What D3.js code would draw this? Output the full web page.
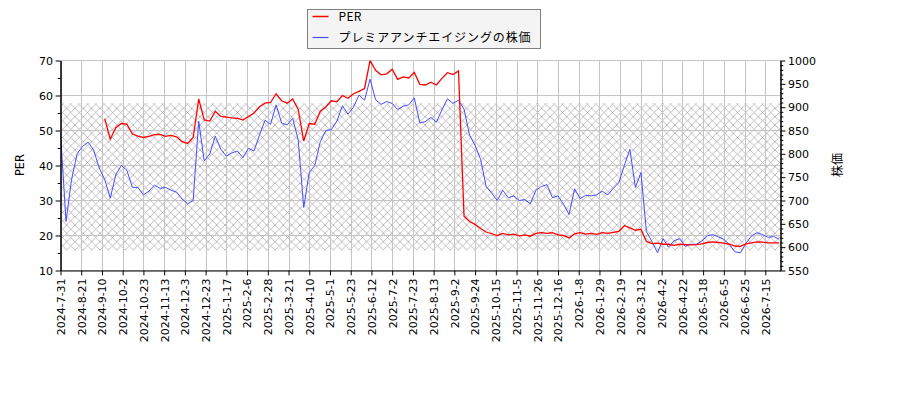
<!DOCTYPE html>
<html>
<head>
<meta charset="utf-8">
<script src="https://d3js.org/d3.v7.min.js"></script>
<style>
  body { margin: 0; background: #fff; }
  text { font-family: "DejaVu Sans", sans-serif; }
  .jp { font-family: "Noto Sans CJK JP", sans-serif; }
</style>
</head>
<body>
<svg id="chart" width="900" height="400"></svg>
<script>
"use strict";

// tick labels, one every 15 trading days starting at day 0
var tickLabels = ["2024-7-31","2024-8-21","2024-9-10","2024-10-2","2024-10-23","2024-11-13",
  "2024-12-3","2024-12-23","2025-1-17","2025-2-6","2025-2-28","2025-3-21","2025-4-10",
  "2025-5-1","2025-5-23","2025-6-12","2025-7-2","2025-7-23","2025-8-13","2025-9-2",
  "2025-9-24","2025-10-15","2025-11-5","2025-11-26","2025-12-16","2026-1-8","2026-1-29",
  "2026-2-19","2026-3-12","2026-4-2","2026-4-22","2026-5-18","2026-6-5","2026-6-25","2026-7-15"];
var tickStep = 15;
var lastDay = 521;

// samples every 4 trading days
var sampleStep = 4;

var price = [845,655,745,800,816,825,808,770,745,705,755,775,765,728,728,712,720,733,726,728,
  722,718,703,693,700,870,785,800,838,810,795,802,806,792,
  812,806,840,872,863,905,866,862,876,830,685,760,775,826,850,852,870,903,885,900,926,915,
  960,916,906,912,908,895,902,905,920,866,869,
  878,868,894,918,908,915,896,840,818,788,730,716,700,722,706,710,700,702,693,722,730,734,
  706,710,692,670,725,704,711,710,712,720,
  712,726,738,775,810,728,760,633,612,588,618,600,614,618,602,606,606,613,624,627,622,617,
  606,590,588,608,624,631,627,621,623,617];

var per = [null,null,null,null,null,null,null,null,
  53.4,47.5,50.8,52.0,51.8,49.0,48.4,48.0,48.3,48.8,48.9,48.3,48.6,48.2,46.8,46.3,48.0,59.0,
  53.0,52.7,55.5,54.0,53.8,53.6,53.5,53.0,
  54.0,55.0,56.8,57.8,58.0,60.5,58.5,57.8,59.0,56.0,47.0,52.0,51.8,55.5,56.8,58.5,58.2,60.0,
  59.2,60.5,61.2,62.0,70.0,67.2,65.9,66.2,67.5,64.6,65.3,65.0,66.6,63.2,63.0,
  63.8,63.0,64.9,66.5,66.0,67.0,25.5,24.0,23.2,22.0,21.0,20.5,20.0,20.6,20.2,20.4,19.9,20.2,
  19.8,20.6,20.8,20.6,20.8,20.2,20.0,19.3,20.5,20.8,20.4,20.6,20.3,20.8,
  20.6,20.9,21.2,22.8,22.2,21.5,21.8,18.3,17.7,17.8,17.5,17.5,17.2,17.5,17.4,17.3,17.4,17.6,
  18.0,18.2,18.0,17.8,17.5,17.0,16.9,17.6,17.9,18.2,18.1,17.9,17.9,17.9];

// shaded PER range
var perBand = [15.8, 57.8];

var perTicks = [10,20,30,40,50,60,70];
var perMinor = [15,25,35,45,55,65];
var priceTicks = [550,600,650,700,750,800,850,900,950,1000];

var seriesNames = ["PER", "プレミアアンチエイジングの株価"];
var seriesColors = ["#ff0000", "#4a4aff"];

var config = {
  left: 60.5, right: 780.5, top: 60.5, bottom: 270.5,
  major: 4.9, minor: 2.8, pad: 2.6, grid: "#c4c4c4"
};

var svg = d3.select("#chart");

var x = d3.scaleLinear().domain([0, lastDay]).range([config.left, config.right]);
var yPer = d3.scaleLinear().domain([10, 70]).range([config.bottom, config.top]);
var yPrice = d3.scaleLinear().domain([550, 1000]).range([config.bottom, config.top]);

// hatch pattern
var cell = 100 / 12;
var hatch = svg.append("defs").append("pattern")
  .attr("id", "hatch")
  .attr("patternUnits", "userSpaceOnUse")
  .attr("width", cell)
  .attr("height", cell);
hatch.append("path")
  .attr("d", "M0,0L" + cell + "," + cell + "M0," + cell + "L" + cell + ",0")
  .attr("stroke", "#a2a2a2")
  .attr("stroke-width", 0.7);

svg.append("rect")
  .attr("x", x(0))
  .attr("y", yPer(perBand[1]))
  .attr("width", x(lastDay) - x(0))
  .attr("height", yPer(perBand[0]) - yPer(perBand[1]))
  .attr("fill", "url(#hatch)");

// grid
var xTickVals = tickLabels.map(function(d, i) { return i * tickStep; });
var grid = svg.append("g").attr("stroke", config.grid).attr("stroke-width", 1);
grid.selectAll("line.v").data(xTickVals).enter().append("line")
  .attr("x1", function(d) { return Math.round(x(d)) + 0.5; })
  .attr("x2", function(d) { return Math.round(x(d)) + 0.5; })
  .attr("y1", config.top).attr("y2", config.bottom);
grid.selectAll("line.h").data(perTicks).enter().append("line")
  .attr("y1", function(d) { return yPer(d); })
  .attr("y2", function(d) { return yPer(d); })
  .attr("x1", config.left).attr("x2", config.right);

// lines
var days = price.map(function(d, i) { return i * sampleStep; });
svg.append("clipPath").attr("id", "plotClip").append("rect")
  .attr("x", config.left).attr("y", config.top)
  .attr("width", config.right - config.left).attr("height", config.bottom - config.top);

svg.append("path")
  .datum(price)
  .attr("clip-path", "url(#plotClip)")
  .attr("fill", "none")
  .attr("stroke", seriesColors[1])
  .attr("stroke-width", 1)
  .attr("d", d3.line()
    .x(function(d, i) { return x(days[i]); })
    .y(function(d) { return yPrice(d); }));

svg.append("path")
  .datum(per)
  .attr("clip-path", "url(#plotClip)")
  .attr("fill", "none")
  .attr("stroke", seriesColors[0])
  .attr("stroke-width", 1.3)
  .attr("d", d3.line()
    .defined(function(d) { return d !== null; })
    .x(function(d, i) { return x(days[i]); })
    .y(function(d) { return yPer(d); }));

// axes
function styleAxis(g) {
  g.selectAll("text").attr("font-size", "11px").attr("fill", "#000")
    .attr("font-family", "DejaVu Sans");
  g.selectAll("line").attr("stroke", "#000");
  g.select(".domain").attr("stroke", "#000");
}

svg.append("g")
  .attr("transform", "translate(" + config.left + ",0)")
  .call(d3.axisLeft(yPer).tickValues(perMinor).tickSize(config.minor).tickSizeOuter(0).tickFormat(""))
  .call(styleAxis);
svg.append("g")
  .attr("transform", "translate(" + config.left + ",0)")
  .call(d3.axisLeft(yPer).tickValues(perTicks).tickSize(config.major).tickPadding(config.pad).tickSizeOuter(0))
  .call(styleAxis);

var priceMinor = d3.range(550, 1001, 10).filter(function(d) { return d % 50 !== 0; });
svg.append("g")
  .attr("transform", "translate(" + config.right + ",0)")
  .call(d3.axisRight(yPrice).tickValues(priceMinor).tickSize(config.minor).tickSizeOuter(0).tickFormat(""))
  .call(styleAxis);
svg.append("g")
  .attr("transform", "translate(" + config.right + ",0)")
  .call(d3.axisRight(yPrice).tickValues(priceTicks).tickSize(config.major).tickPadding(config.pad)
    .tickSizeOuter(0).tickFormat(d3.format("d")))
  .call(styleAxis);

var xAxis = svg.append("g")
  .attr("transform", "translate(0," + config.bottom + ")")
  .call(d3.axisBottom(x).tickValues(xTickVals).tickSize(config.major).tickSizeOuter(0)
    .tickFormat(function(d, i) { return tickLabels[i]; }))
  .call(styleAxis);
xAxis.selectAll("text")
  .attr("transform", "rotate(-90)")
  .attr("text-anchor", "end")
  .attr("x", -(config.major + 3))
  .attr("y", 0)
  .attr("dy", "0.35em");

// axis titles
svg.append("text")
  .attr("transform", "translate(24,165) rotate(-90)")
  .attr("text-anchor", "middle")
  .attr("font-size", "11.5px")
  .text("PER");
svg.append("text")
  .classed("jp", true)
  .attr("transform", "translate(842,165) rotate(-90)")
  .attr("text-anchor", "middle")
  .attr("font-size", "12px")
  .text("株価");

// legend
var legend = svg.append("g").attr("transform", "translate(307.5,9.5)");
legend.append("rect")
  .attr("width", 233).attr("height", 39)
  .attr("fill", "#f4f4f4").attr("stroke", "#808080").attr("stroke-width", 1);
seriesNames.forEach(function(name, i) {
  var ly = 7 + i * 21;
  legend.append("line")
    .attr("x1", 5).attr("x2", 21).attr("y1", ly).attr("y2", ly)
    .attr("stroke", seriesColors[i]).attr("stroke-width", i === 0 ? 1.5 : 1.2);
  legend.append("text")
    .classed("jp", true)
    .attr("x", 31).attr("y", ly)
    .attr("dy", "0.36em")
    .attr("font-size", "12px")
    .attr("letter-spacing", i === 0 ? "0.3px" : "0.9px")
    .text(name);
});
</script>
</body>
</html>
